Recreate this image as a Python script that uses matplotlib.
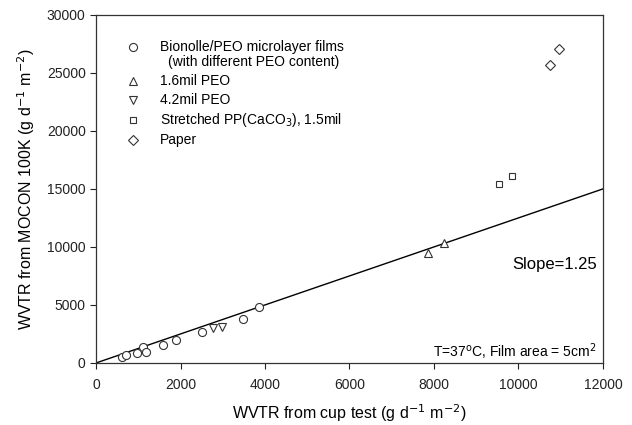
import numpy as np
import matplotlib
matplotlib.use('Agg')
import matplotlib.pyplot as plt

plt.rcParams['font.family'] = ['Liberation Sans', 'DejaVu Sans']

# Bionolle/PEO microlayer films
bion_x = [608, 710, 978, 1105, 1176, 1578, 1893, 2501, 3470, 3866]
bion_y = [545, 690, 890, 1350, 975, 1525, 1983, 2700, 3800, 4800]
# 1.6mil PEO
peo16_x = [7850, 8245]
peo16_y = [9457, 10370]
# 4.2mil PEO
peo42_x = [2776, 2975]
peo42_y = [2991, 3129]
# Stretched PP(CaCO3)
pp_x = [9546, 9854]
pp_y = [15405, 16147]
# Paper
paper_x = [10745, 10950]
paper_y = [25660, 27095]

slope = 1.25
line_x = [0, 12000]

fig = plt.figure(figsize=(6.32, 4.25), dpi=100)
ax = fig.add_axes([0.152, 0.146, 0.802, 0.819])

ax.plot(line_x, [slope * v for v in line_x], color='black', lw=1.0, zorder=1)

mk = dict(linestyle='none', mfc='white', mec='#333333', mew=0.8, ms=5.8, zorder=3)
ax.plot(bion_x, bion_y, marker='o', **mk)
ax.plot(peo16_x, peo16_y, marker='^', **mk)
ax.plot(peo42_x, peo42_y, marker='v', **mk)
ax.plot(pp_x, pp_y, marker='s', **dict(mk, ms=5))
ax.plot(paper_x, paper_y, marker='D', **dict(mk, ms=4.6))

ax.set_xlim(0, 12000)
ax.set_ylim(0, 30000)
ax.set_xticks(np.arange(0, 12001, 2000))
ax.set_yticks(np.arange(0, 30001, 5000))
ax.tick_params(direction='out', length=4, width=0.8, labelsize=10, colors='#222222')
ax.tick_params(axis='x', pad=7)
for s in ax.spines.values():
    s.set_linewidth(0.9)
    s.set_color('#333333')

ax.set_xlabel('WVTR from cup test (g d$^{-1}$ m$^{-2}$)', fontsize=11.5, labelpad=7)
ax.set_ylabel('WVTR from MOCON 100K (g d$^{-1}$ m$^{-2}$)', fontsize=11.5, labelpad=7)

# legend drawn as text like the original
leg_mx = 876
leg_tx = 1515
entries = [('o', 27240, 5.8, 'Bionolle/PEO microlayer films'),
           ('^', 24310, 5.3, '1.6mil PEO'),
           ('v', 22670, 5.3, '4.2mil PEO'),
           ('s', 20950, 5, 'Stretched PP(CaCO$_3$), 1.5mil'),
           ('D', 19220, 4.6, 'Paper')]
for m, yv, sz, lab in entries:
    ax.plot([leg_mx], [yv], marker=m, **dict(mk, ms=sz))
    ax.text(leg_tx, yv, lab, fontsize=10, va='center', ha='left')
ax.text(1700, 25950, '(with different PEO content)', fontsize=10, va='center', ha='left')

ax.text(11850, 8500, 'Slope=1.25', fontsize=12, ha='right', va='center')
ax.text(11850, 1000, 'T=37$^{\\mathrm{o}}$C, Film area = 5cm$^2$', fontsize=10, ha='right', va='center')

fig.savefig('out.png', dpi=100)
